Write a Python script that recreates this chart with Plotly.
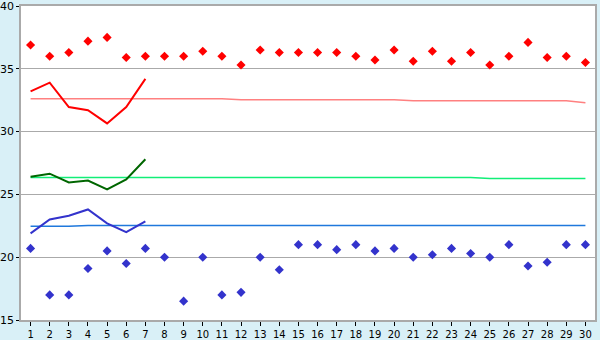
import plotly.graph_objects as go

days = list(range(1, 31))

max_temps = [36.9, 36.0, 36.3, 37.2, 37.5, 35.9, 36.0, 36.0, 36.0, 36.4,
             36.0, 35.3, 36.5, 36.3, 36.3, 36.3, 36.3, 36.0, 35.7, 36.5,
             35.6, 36.4, 35.6, 36.3, 35.3, 36.0, 37.1, 35.9, 36.0, 35.5]
min_temps = [20.7, 17.0, 17.0, 19.1, 20.5, 19.5, 20.7, 20.0, 16.5, 20.0,
             17.0, 17.2, 20.0, 19.0, 21.0, 21.0, 20.6, 21.0, 20.5, 20.7,
             20.0, 20.2, 20.7, 20.3, 20.0, 21.0, 19.3, 19.6, 21.0, 21.0]

week_days = [1, 2, 3, 4, 5, 6, 7]
week_max = [33.2, 33.9, 31.95, 31.7, 30.65, 31.95, 34.2]
week_mean = [26.4, 26.65, 25.95, 26.1, 25.4, 26.2, 27.8]
week_min = [21.9, 23.0, 23.3, 23.8, 22.7, 22.0, 22.85]

normal_max = [32.62] * 11 + [32.54] * 9 + [32.46] * 9 + [32.3]
normal_mean = [26.35] * 24 + [26.27] * 6
normal_min = [22.46] * 3 + [22.53] * 27

y_ticks = [15, 20, 25, 30, 35, 40]

fig = go.Figure()

fig.add_trace(go.Scatter(x=days, y=normal_max, mode="lines",
                         line=dict(color="#ff8080", width=1.5), hoverinfo="skip"))
fig.add_trace(go.Scatter(x=days, y=normal_mean, mode="lines",
                         line=dict(color="#11ee77", width=1.5), hoverinfo="skip"))
fig.add_trace(go.Scatter(x=days, y=normal_min, mode="lines",
                         line=dict(color="#1f78dc", width=1.5), hoverinfo="skip"))

fig.add_trace(go.Scatter(x=week_days, y=week_max, mode="lines",
                         line=dict(color="#ff0000", width=2)))
fig.add_trace(go.Scatter(x=week_days, y=week_mean, mode="lines",
                         line=dict(color="#006600", width=2)))
fig.add_trace(go.Scatter(x=week_days, y=week_min, mode="lines",
                         line=dict(color="#3333cc", width=2)))

fig.add_trace(go.Scatter(x=days, y=max_temps, mode="markers",
                         marker=dict(symbol="diamond", size=7, color="#ff0000")))
fig.add_trace(go.Scatter(x=days, y=min_temps, mode="markers",
                         marker=dict(symbol="diamond", size=7, color="#3333cc")))

fig.update_layout(
    width=600, height=340,
    margin=dict(l=21, r=5, t=6, b=20, autoexpand=False),
    paper_bgcolor="#d9f0f7",
    plot_bgcolor="#ffffff",
    showlegend=False,
    font=dict(family="DejaVu Sans", size=11, color="#000000"),
)
fig.update_xaxes(
    range=[0.5, 30.5], tickmode="array", tickvals=days,
    ticktext=[str(d) for d in days], automargin=False,
    tickfont=dict(size=10),
    showgrid=False, showline=True, linecolor="#aaaaaa", linewidth=1.5, mirror=True,
    ticks="outside", ticklen=4, tickcolor="#000000", tickwidth=1,
    ticklabeloverflow="allow",
    zeroline=False, fixedrange=True,
)
fig.update_yaxes(
    range=[15, 40], tickmode="array", tickvals=y_ticks,
    ticktext=[str(v) for v in y_ticks], automargin=False,
    showgrid=True, gridcolor="#aaaaaa", gridwidth=1,
    showline=True, linecolor="#aaaaaa", linewidth=1.5, mirror=True,
    ticks="outside", ticklen=3, tickcolor="#000000", tickwidth=1,
    ticklabeloverflow="allow",
    zeroline=False, fixedrange=True,
)

fig.write_html("out.html")
